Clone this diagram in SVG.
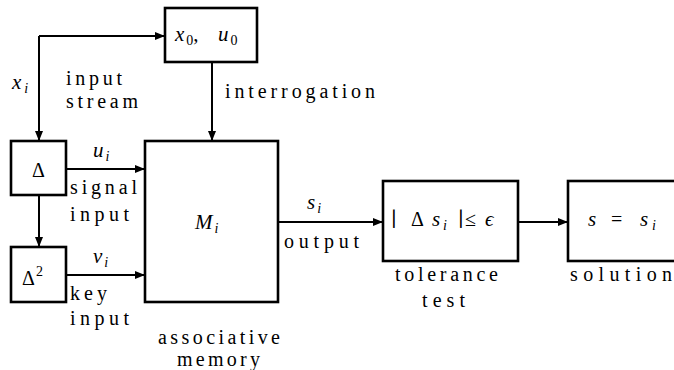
<svg xmlns="http://www.w3.org/2000/svg" width="674" height="370" viewBox="0 0 674 370" font-family="'Liberation Serif', 'DejaVu Serif', serif">
<style>
.box{fill:#fff;stroke:#000;stroke-width:2.6}
.ln{fill:none;stroke:#000;stroke-width:2}
text{font-family:'Liberation Serif','DejaVu Serif',serif;fill:#000}
.t{font-size:20px}
.m{font-size:21px;font-style:italic}
.r{font-style:normal}
.sub{font-size:14px}
</style>
<defs>
<marker id="ah" markerUnits="userSpaceOnUse" markerWidth="10" markerHeight="8" refX="10" refY="4" orient="auto">
<path d="M0,0 L10,4 L0,8 z" fill="#000"/>
</marker>
</defs>
<rect width="674" height="370" fill="#fff"/>
<g id="connectors">
<path class="ln" d="M39,36 L39,141" marker-end="url(#ah)"/>
<path class="ln" d="M39,36 L165,36" marker-end="url(#ah)"/>
<path class="ln" d="M212,62 L212,141" marker-end="url(#ah)"/>
<path class="ln" d="M39,195 L39,247" marker-end="url(#ah)"/>
<path class="ln" d="M66,169 L145,169" marker-end="url(#ah)"/>
<path class="ln" d="M66,275 L145,275" marker-end="url(#ah)"/>
<path class="ln" d="M278,222 L383,222" marker-end="url(#ah)"/>
<path class="ln" d="M518,222 L568,222" marker-end="url(#ah)"/>
</g>
<g id="labels">
<text class="m" x="12" y="89">x<tspan class="sub" dx="3" dy="4">i</tspan></text>
<text class="t" x="66" y="85" textLength="56" lengthAdjust="spacing">input</text>
<text class="t" x="66" y="108" textLength="72" lengthAdjust="spacing">stream</text>
<text class="t" x="225" y="98" textLength="150" lengthAdjust="spacing">interrogation</text>
<text class="m" x="93" y="157">u<tspan class="sub" dx="2" dy="4">i</tspan></text>
<text class="t" x="70" y="194" textLength="67" lengthAdjust="spacing">signal</text>
<text class="t" x="70" y="221" textLength="59" lengthAdjust="spacing">input</text>
<text class="m" x="93" y="263">v<tspan class="sub" dx="2" dy="4">i</tspan></text>
<text class="t" x="70" y="300" textLength="37" lengthAdjust="spacing">key</text>
<text class="t" x="70" y="325" textLength="59" lengthAdjust="spacing">input</text>
<text class="t" x="158" y="344" textLength="122" lengthAdjust="spacing">associative</text>
<text class="t" x="177" y="366" textLength="83" lengthAdjust="spacing">memory</text>
<text class="m" x="307" y="209">s<tspan class="sub" dx="2" dy="4">i</tspan></text>
<text class="t" x="284" y="248" textLength="75" lengthAdjust="spacing">output</text>
<text class="t" x="395" y="281" textLength="103" lengthAdjust="spacing">tolerance</text>
<text class="t" x="422" y="307" textLength="43" lengthAdjust="spacing">test</text>
<text class="t" x="570" y="281" textLength="102" lengthAdjust="spacing">solution</text>
</g>
<g id="node-x0u0">
<rect class="box" x="165" y="8" width="92" height="54"/>
<text class="m" x="175" y="41">x<tspan class="sub r" dx="2" dy="4">0</tspan><tspan class="r" dy="-4">,</tspan><tspan x="218">u</tspan><tspan class="sub r" dx="2" dy="4">0</tspan></text>
</g>
<g id="node-delta">
<rect class="box" x="11" y="141" width="55" height="54"/>
<text class="t" x="38.5" y="177" text-anchor="middle" font-size="22">Δ</text>
</g>
<g id="node-delta2">
<rect class="box" x="11" y="247" width="55" height="55"/>
<text class="t" x="22" y="285" font-size="22">Δ<tspan class="sub" dx="1" dy="-9">2</tspan></text>
</g>
<g id="node-memory">
<rect class="box" x="145" y="141" width="133" height="161"/>
<text class="m" x="195" y="229">M<tspan class="sub" dx="2" dy="4">i</tspan></text>
</g>
<g id="node-tolerance">
<rect class="box" x="383" y="181" width="135" height="80"/>
<text class="t" y="226"><tspan x="391">∣</tspan><tspan x="411">Δ</tspan></text>
<text class="m" y="226"><tspan x="432">s</tspan><tspan class="sub" x="443" dy="4">i</tspan></text>
<text class="t" y="226"><tspan x="458">∣</tspan><tspan x="465">≤</tspan></text>
<text class="m" x="485" y="226">ϵ</text>
</g>
<g id="node-solution">
<rect class="box" x="568" y="181" width="120" height="80"/>
<text class="m" x="588" y="226">s</text>
<text class="t" x="611" y="226">=</text>
<text class="m" y="226"><tspan x="640">s</tspan><tspan class="sub" x="652" dy="4">i</tspan></text>
</g>
</svg>
